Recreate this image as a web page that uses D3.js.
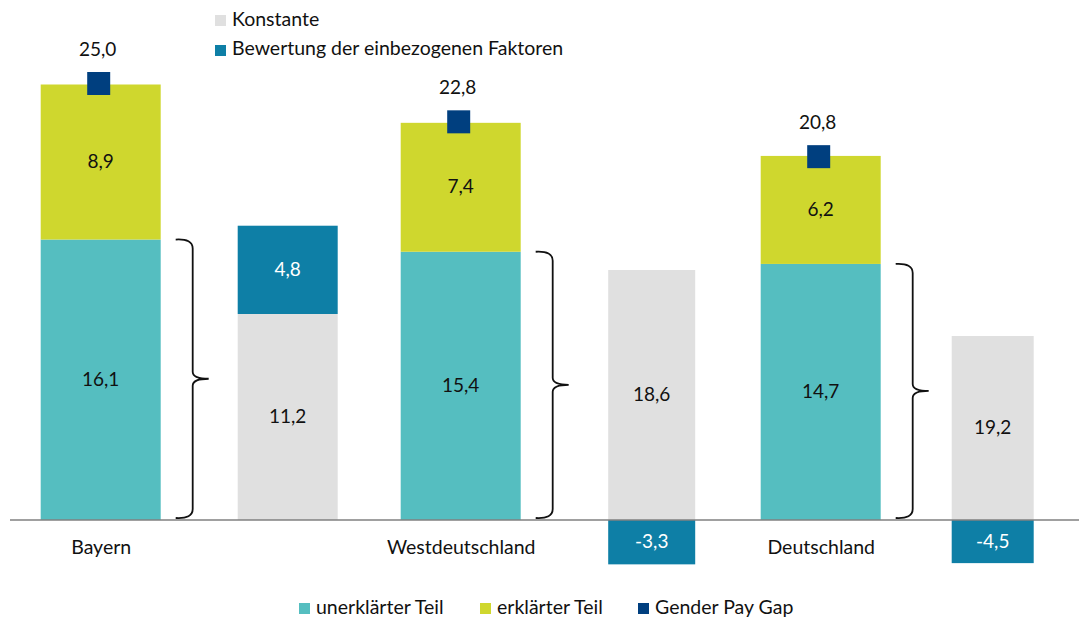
<!DOCTYPE html>
<html>
<head>
<meta charset="utf-8">
<script src="https://cdn.jsdelivr.net/npm/d3@7"></script>
<style>
  body { margin: 0; background: #fff; }
  text { font-family: Lato, "Noto Sans", sans-serif; fill: #111; }
</style>
</head>
<body>
<script>
// data
let groups = ["Bayern", "Westdeutschland", "Deutschland"]
let unerklaert = [16.1, 15.4, 14.7]
let erklaert = [8.9, 7.4, 6.2]
let payGap = [25.0, 22.8, 20.8]
let konstante = [11.2, 18.6, 19.2]
let bewertung = [4.8, -3.3, -4.5]

// layout
let w = 1079
let h = 618
let baseY = 520
let barW = 120
let decompShift = [187, 191, 172]  // hand placed in the original
let decompW = [100, 87, 82]
let konstTop = [314, 270, 336]     // hand drawn: each decomposition bar has its own scale

let col = {
  unerklaert: "#55BEC0",
  erklaert: "#CFD72E",
  gap: "#003F7F",
  konst: "#E0E0E0",
  bew: "#0E7FA6"
}

let loc = d3.formatLocale({decimal: ",", thousands: ".", grouping: [3], currency: ["", "€"], minus: "-"})
let fmt = loc.format(".1f")

let svg = d3.select("body").append("svg")
  .attr("width", w)
  .attr("height", h)

let x = d3.scalePoint().domain(groups).range([100.7, 820.7])
let y = d3.scaleLinear().domain([0, 25]).range([baseY, 84.5])

let yDecomp = groups.map((g, i) => d3.scaleLinear().domain([0, konstante[i]]).range([baseY, konstTop[i]]))

// main stacked bars
let rows = groups.map((g, i) => ({g: g, i: i, u: unerklaert[i], e: erklaert[i], t: payGap[i], k: konstante[i], b: bewertung[i]}))

let main = svg.append("g")
main.selectAll(".u").data(rows).enter().append("rect")
  .attr("x", d => x(d.g) - barW / 2)
  .attr("width", barW)
  .attr("y", d => y(d.u))
  .attr("height", d => y(0) - y(d.u))
  .attr("fill", col.unerklaert)
main.selectAll(".e").data(rows).enter().append("rect")
  .attr("x", d => x(d.g) - barW / 2)
  .attr("width", barW)
  .attr("y", d => y(d.u + d.e))
  .attr("height", d => y(d.u) - y(d.u + d.e))
  .attr("fill", col.erklaert)

main.selectAll(".ul").data(rows).enter().append("text")
  .attr("x", d => x(d.g))
  .attr("y", d => (y(0) + y(d.u)) / 2 + 6)
  .attr("text-anchor", "middle")
  .attr("font-size", 19)
  .text(d => fmt(d.u))
main.selectAll(".el").data(rows).enter().append("text")
  .attr("x", d => x(d.g))
  .attr("y", d => (y(d.u) + y(d.u + d.e)) / 2 + 6)
  .attr("text-anchor", "middle")
  .attr("font-size", 19)
  .text(d => fmt(d.e))

// gender pay gap markers
main.selectAll(".gp").data(rows).enter().append("rect")
  .attr("x", d => x(d.g) - 2 - 11.5)
  .attr("y", d => y(d.t) - 1 - 11.5)
  .attr("width", 23)
  .attr("height", 23)
  .attr("fill", col.gap)
main.selectAll(".gl").data(rows).enter().append("text")
  .attr("x", d => x(d.g) - 3)
  .attr("y", d => y(d.t) - 29)
  .attr("text-anchor", "middle")
  .attr("font-size", 19)
  .text(d => fmt(d.t))

// decomposition bars
let dec = svg.append("g")
rows.forEach(d => {
  let s = yDecomp[d.i]
  let cx = x(d.g) + decompShift[d.i]
  let bw = decompW[d.i]
  dec.append("rect")
    .attr("x", cx - bw / 2).attr("width", bw)
    .attr("y", s(d.k)).attr("height", s(0) - s(d.k))
    .attr("fill", col.konst)
  let b0 = d.b >= 0 ? s(d.k + d.b) : s(0)
  let b1 = d.b >= 0 ? s(d.k) : s(d.b)
  dec.append("rect")
    .attr("x", cx - bw / 2).attr("width", bw)
    .attr("y", b0).attr("height", b1 - b0)
    .attr("fill", col.bew)
  dec.append("text")
    .attr("x", cx).attr("y", (s(0) + s(d.k)) / 2 + 6)
    .attr("text-anchor", "middle").attr("font-size", 19)
    .text(fmt(d.k))
  dec.append("text")
    .attr("x", cx).attr("y", (b0 + b1) / 2 + 6)
    .attr("text-anchor", "middle").attr("font-size", 19)
    .style("fill", "#fff")
    .text(fmt(d.b))
})

// braces
rows.forEach(d => {
  let x0 = x(d.g) + barW / 2
  let top = y(d.u)
  let bot = y(0) - 2
  let mid = (top + bot) / 2
  let vx = x0 + 32
  let p = d3.path()
  p.moveTo(x0 + 15, top)
  p.quadraticCurveTo(vx, top - 1, vx, top + 9)
  p.lineTo(vx, mid - 7)
  p.quadraticCurveTo(vx, mid, vx + 16, mid)
  p.quadraticCurveTo(vx, mid, vx, mid + 7)
  p.lineTo(vx, bot - 9)
  p.quadraticCurveTo(vx, bot + 1, x0 + 15, bot)
  svg.append("path")
    .attr("d", p.toString())
    .attr("fill", "none")
    .attr("stroke", "#111")
    .attr("stroke-width", 1.8)
})

// baseline
svg.append("line")
  .attr("x1", 10).attr("x2", w)
  .attr("y1", y(0)).attr("y2", y(0))
  .attr("stroke", "#808080")
  .attr("stroke-width", 1.5)

// category axis
let xAxis = d3.axisBottom(x).tickSize(0).tickPadding(0)
let ax = svg.append("g")
  .attr("transform", "translate(0," + (y(0) + 20) + ")")
  .call(xAxis)
ax.select(".domain").remove()
ax.selectAll("text")
  .attr("font-size", 19.5)
  .attr("font-family", "Lato, 'Noto Sans', sans-serif")
  .style("fill", "#111")
  .attr("dy", "0.71em")

// top legend
let topLeg = [["Konstante", col.konst], ["Bewertung der einbezogenen Faktoren", col.bew]]
topLeg.forEach((l, i) => {
  svg.append("rect")
    .attr("x", 215).attr("y", 15 + i * 30)
    .attr("width", 11).attr("height", 11)
    .attr("fill", l[1])
  svg.append("text")
    .attr("x", 232).attr("y", 26 + i * 29)
    .attr("font-size", 19.5)
    .text(l[0])
})

// bottom legend
let botLeg = [["unerklärter Teil", col.unerklaert, 299], ["erklärter Teil", col.erklaert, 480], ["Gender Pay Gap", col.gap, 638]]
botLeg.forEach(l => {
  svg.append("rect")
    .attr("x", l[2]).attr("y", 603)
    .attr("width", 11).attr("height", 11)
    .attr("fill", l[1])
  svg.append("text")
    .attr("x", l[2] + 17).attr("y", 614)
    .attr("font-size", 19.5)
    .text(l[0])
})
</script>
</body>
</html>
